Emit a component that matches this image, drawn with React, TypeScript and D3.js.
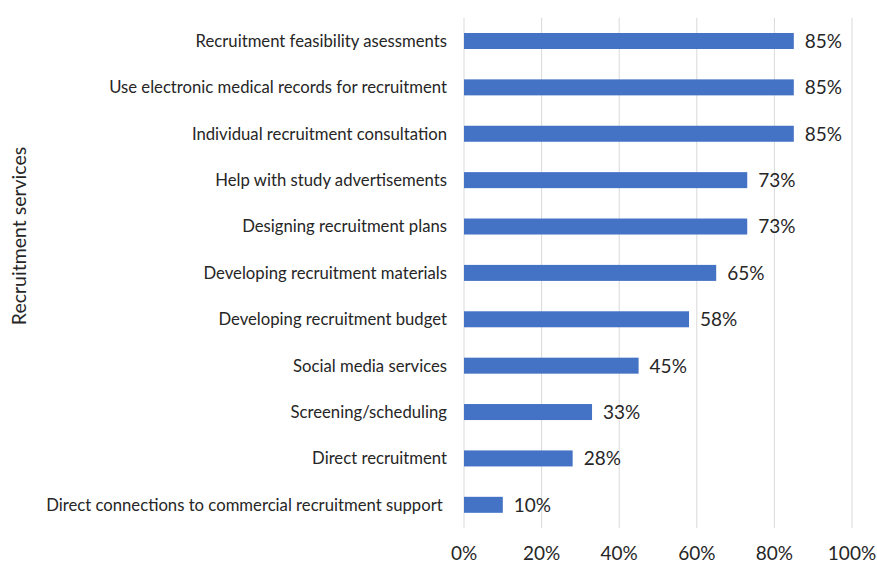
import React from "react";
import * as d3 from "d3";

const categories = [
  "Recruitment feasibility asessments",
  "Use electronic medical records for recruitment",
  "Individual recruitment consultation",
  "Help with study advertisements",
  "Designing recruitment plans",
  "Developing recruitment materials",
  "Developing recruitment budget",
  "Social media services",
  "Screening/scheduling",
  "Direct recruitment",
  "Direct connections to commercial recruitment support ",
];
const values = [0.85, 0.85, 0.85, 0.73, 0.73, 0.65, 0.58, 0.45, 0.33, 0.28, 0.1];
const xTicks = [0, 0.2, 0.4, 0.6, 0.8, 1.0];
const yTitle = "Recruitment services";

const W = 877;
const H = 563;
const FONT = "Lato, 'Open Sans', sans-serif";

export default function App() {
  const x = d3.scaleLinear().domain([0, 1]).range([464, 852]);
  const y = d3
    .scaleBand<string>()
    .domain(categories)
    .range([17.8, 528])
    .paddingInner(0.655)
    .paddingOuter(0.3275);
  const fmt = d3.format(".0%");
  return (
    <svg
      width={W}
      height={H}
      style={{ position: "absolute", left: 0, top: 0, background: "#fff" }}
      fontFamily={FONT}
    >
      {xTicks.map((t) => (
        <line
          key={"g" + t}
          x1={x(t)}
          x2={x(t)}
          y1={17.8}
          y2={528}
          stroke="#d9d9d9"
          strokeWidth={1}
        />
      ))}
      {categories.map((c, i) => (
        <rect
          key={"b" + c}
          x={x(0)}
          y={y(c)!}
          width={x(values[i]) - x(0)}
          height={y.bandwidth()}
          fill="#4472C4"
        />
      ))}
      {categories.map((c, i) => (
        <text
          key={"v" + c}
          x={x(values[i]) + 11}
          y={y(c)! + y.bandwidth() / 2}
          dy="0.36em"
          fontSize={19}
          fill="#262626"
        >
          {fmt(values[i])}
        </text>
      ))}
      {categories.map((c) => (
        <text
          key={"l" + c}
          x={447}
          y={y(c)! + y.bandwidth() / 2}
          dy="0.35em"
          textAnchor="end"
          fontSize={16.7}
          fill="#262626"
          style={{ whiteSpace: "pre" }}
        >
          {c}
        </text>
      ))}
      {xTicks.map((t) => (
        <text
          key={"t" + t}
          x={x(t)}
          y={553}
          dy="0.36em"
          textAnchor="middle"
          fontSize={19}
          fill="#262626"
        >
          {fmt(t)}
        </text>
      ))}
      <text
        transform={`translate(19,236) rotate(-90)`}
        textAnchor="middle"
        dy="0.36em"
        fontSize={19.5}
        fill="#262626"
      >
        {yTitle}
      </text>
    </svg>
  );
}
